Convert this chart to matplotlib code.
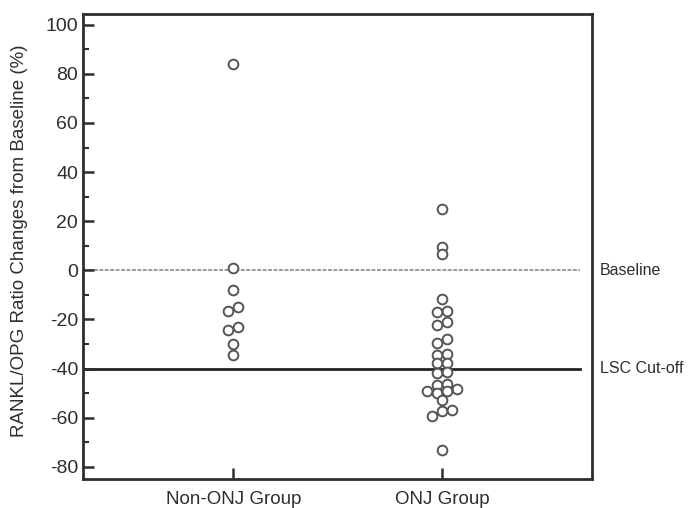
import matplotlib
matplotlib.use("Agg")
import matplotlib.pyplot as plt
from matplotlib.ticker import MultipleLocator

plt.rcParams['font.family'] = ['Liberation Sans', 'DejaVu Sans']
plt.rcParams['axes.unicode_minus'] = False

# Data (% change of RANKL/OPG ratio from baseline)
groups = ["Non-ONJ Group", "ONJ Group"]

non_onj_values = [84, 1, -8, -16.5, -15, -24.5, -23, -30, -34.5]
non_onj_slots = [0, 0, 0, -1, 1, -1, 1, 0, 0]

onj_values = [25, 9.5, 6.5, -11.5, -17, -16.7, -22.4, -21, -29.8, -27.9,
              -34.4, -33.9, -37.8, -37.6, -41.9, -41.4, -46.5, -46.2,
              -49.3, -49.8, -49, -48.2, -53, -59.4, -57.3, -56.9, -73.2]
onj_slots = [0, 0, 0, 0, -1, 1, -1, 1, -1, 1,
             -1, 1, -1, 1, -1, 1, -1, 1,
             -3, -1, 1, 3, 0, -2, 0, 2, 0]

baseline = 0
lsc_cutoff = -40

ink = '#2e2e2e'
slot_step = 0.024  # horizontal dodge per slot, in x units

fig = plt.figure(figsize=(6.9, 5.08), dpi=100)
ax = fig.add_axes([0.1203, 0.057, 0.7377, 0.916])

# dotted baseline and solid LSC cut-off line (stop just short of the right spine)
ax.axhline(baseline, xmin=0, xmax=0.976, color='#9a9a9a', lw=1.4,
           linestyle=(0, (2, 0.8)), zorder=1)
ax.axhline(lsc_cutoff, xmin=0, xmax=0.976, color='#222222', lw=2.0, zorder=1)

for i, (vals, slots) in enumerate([(non_onj_values, non_onj_slots),
                                   (onj_values, onj_slots)]):
    xs = [i + s * slot_step for s in slots]
    ax.plot(xs, vals, linestyle='none', marker='o', markersize=7,
            markerfacecolor='white', markeredgecolor='#555555',
            markeredgewidth=1.4, zorder=3)

ax.set_xlim(-0.72, 1.72)
ax.set_ylim(-85, 104.5)

ax.set_xticks([0, 1])
ax.set_xticklabels(groups)
ax.yaxis.set_major_locator(MultipleLocator(20))
ax.yaxis.set_minor_locator(MultipleLocator(10))

ax.tick_params(axis='both', which='major', direction='in', length=8, width=1.8,
               colors=ink, labelsize=14)
ax.tick_params(axis='y', which='major', pad=3.6)
ax.tick_params(axis='x', which='major', pad=8.5, labelsize=13.5)
ax.tick_params(axis='y', which='minor', direction='in', length=4.5, width=1.5,
               colors=ink)

for sp in ax.spines.values():
    sp.set_linewidth(2.0)
    sp.set_color(ink)

ax.set_ylabel('RANKL/OPG Ratio Changes from Baseline (%)', fontsize=13.5,
              color=ink)
ax.yaxis.set_label_coords(-0.108, 0.513)

trans = ax.get_yaxis_transform()
ax.text(1.0157, baseline, 'Baseline', transform=trans, ha='left', va='center',
        fontsize=11.5, color=ink)
ax.text(1.0157, lsc_cutoff, 'LSC Cut-off', transform=trans, ha='left',
        va='center', fontsize=11.5, color=ink)

fig.savefig('out.png', dpi=100)
